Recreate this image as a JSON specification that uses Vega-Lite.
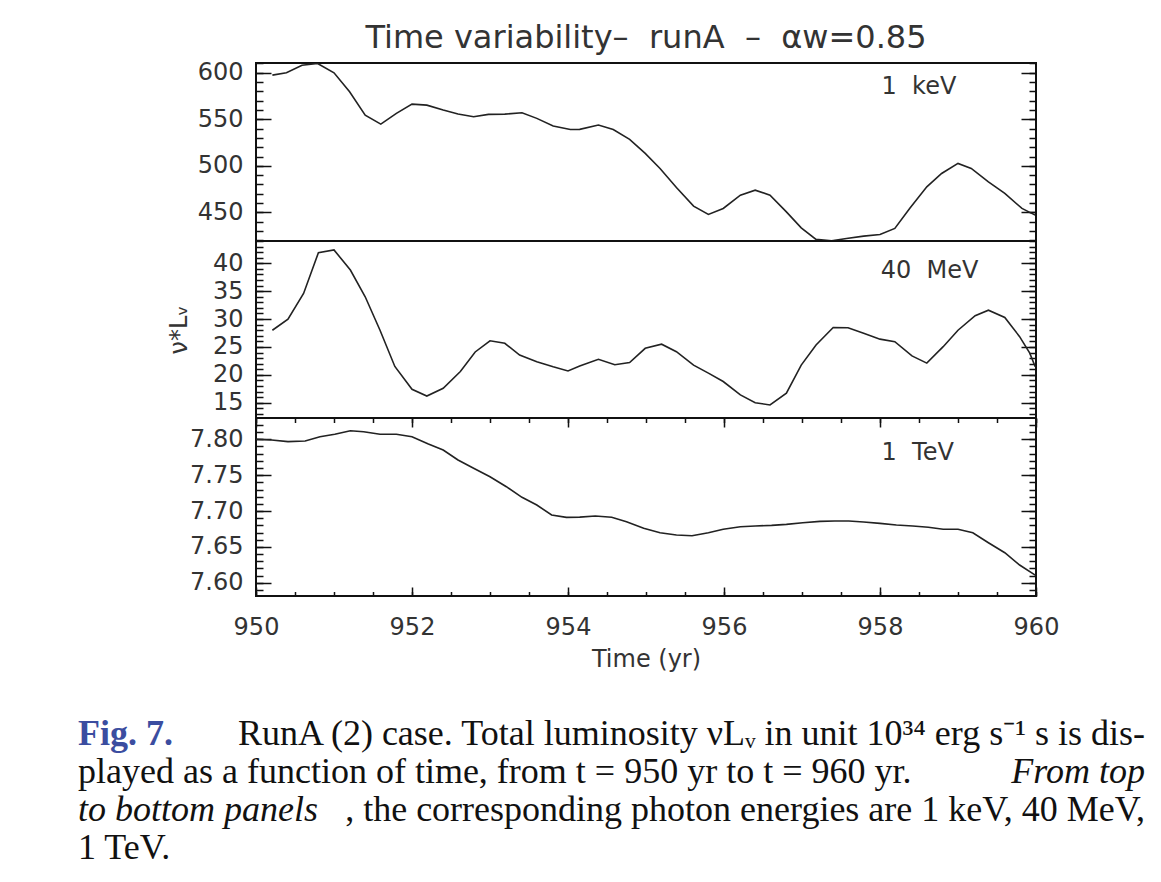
{
  "$schema": "https://vega.github.io/schema/vega-lite/v6.json",
  "background": "white",
  "padding": {"left": 78, "top": 20, "right": 0, "bottom": 0},
  "datasets": {
    "lum": [
      {"band": "1 keV", "t": 950.21, "L": 597.5}, {"band": "1 keV", "t": 950.39, "L": 600}, {"band": "1 keV", "t": 950.59, "L": 608}, {"band": "1 keV", "t": 950.79, "L": 610}, {"band": "1 keV", "t": 951.0, "L": 600}, {"band": "1 keV", "t": 951.2, "L": 579.6}, {"band": "1 keV", "t": 951.4, "L": 554.5}, {"band": "1 keV", "t": 951.6, "L": 544.8}, {"band": "1 keV", "t": 951.8, "L": 556.3}, {"band": "1 keV", "t": 952.0, "L": 566.3}, {"band": "1 keV", "t": 952.19, "L": 565.2}, {"band": "1 keV", "t": 952.4, "L": 559.9}, {"band": "1 keV", "t": 952.59, "L": 555.6}, {"band": "1 keV", "t": 952.79, "L": 552.7}, {"band": "1 keV", "t": 952.98, "L": 555.3}, {"band": "1 keV", "t": 953.19, "L": 555.6}, {"band": "1 keV", "t": 953.41, "L": 557}, {"band": "1 keV", "t": 953.6, "L": 551}, {"band": "1 keV", "t": 953.81, "L": 542.7}, {"band": "1 keV", "t": 954.03, "L": 539.1}, {"band": "1 keV", "t": 954.15, "L": 539.2}, {"band": "1 keV", "t": 954.39, "L": 543.8}, {"band": "1 keV", "t": 954.58, "L": 539}, {"band": "1 keV", "t": 954.79, "L": 528.4}, {"band": "1 keV", "t": 954.99, "L": 513.3}, {"band": "1 keV", "t": 955.18, "L": 497.2}, {"band": "1 keV", "t": 955.39, "L": 476.7}, {"band": "1 keV", "t": 955.61, "L": 456.7}, {"band": "1 keV", "t": 955.8, "L": 447.7}, {"band": "1 keV", "t": 955.99, "L": 454.2}, {"band": "1 keV", "t": 956.21, "L": 468.5}, {"band": "1 keV", "t": 956.4, "L": 473.8}, {"band": "1 keV", "t": 956.59, "L": 468.5}, {"band": "1 keV", "t": 956.8, "L": 450.5}, {"band": "1 keV", "t": 956.99, "L": 433.4}, {"band": "1 keV", "t": 957.18, "L": 420.9}, {"band": "1 keV", "t": 957.38, "L": 419.4}, {"band": "1 keV", "t": 957.57, "L": 421.9}, {"band": "1 keV", "t": 957.79, "L": 424.4}, {"band": "1 keV", "t": 958.0, "L": 426.2}, {"band": "1 keV", "t": 958.19, "L": 432.7}, {"band": "1 keV", "t": 958.38, "L": 454.2}, {"band": "1 keV", "t": 958.6, "L": 477.4}, {"band": "1 keV", "t": 958.79, "L": 491.8}, {"band": "1 keV", "t": 959.0, "L": 502.6}, {"band": "1 keV", "t": 959.17, "L": 497.2}, {"band": "1 keV", "t": 959.39, "L": 482.8}, {"band": "1 keV", "t": 959.6, "L": 470.3}, {"band": "1 keV", "t": 959.82, "L": 454.2}, {"band": "1 keV", "t": 959.99, "L": 447},
      {"band": "40 MeV", "t": 950.21, "L": 28.0}, {"band": "40 MeV", "t": 950.41, "L": 30.0}, {"band": "40 MeV", "t": 950.61, "L": 34.6}, {"band": "40 MeV", "t": 950.8, "L": 41.9}, {"band": "40 MeV", "t": 951.0, "L": 42.4}, {"band": "40 MeV", "t": 951.21, "L": 38.8}, {"band": "40 MeV", "t": 951.4, "L": 34.0}, {"band": "40 MeV", "t": 951.59, "L": 28.0}, {"band": "40 MeV", "t": 951.78, "L": 21.5}, {"band": "40 MeV", "t": 952.0, "L": 17.4}, {"band": "40 MeV", "t": 952.19, "L": 16.2}, {"band": "40 MeV", "t": 952.4, "L": 17.6}, {"band": "40 MeV", "t": 952.62, "L": 20.6}, {"band": "40 MeV", "t": 952.81, "L": 24.1}, {"band": "40 MeV", "t": 953.0, "L": 26.1}, {"band": "40 MeV", "t": 953.19, "L": 25.65}, {"band": "40 MeV", "t": 953.38, "L": 23.55}, {"band": "40 MeV", "t": 953.6, "L": 22.35}, {"band": "40 MeV", "t": 953.81, "L": 21.45}, {"band": "40 MeV", "t": 954.0, "L": 20.7}, {"band": "40 MeV", "t": 954.15, "L": 21.6}, {"band": "40 MeV", "t": 954.39, "L": 22.8}, {"band": "40 MeV", "t": 954.6, "L": 21.8}, {"band": "40 MeV", "t": 954.79, "L": 22.2}, {"band": "40 MeV", "t": 954.99, "L": 24.75}, {"band": "40 MeV", "t": 955.2, "L": 25.5}, {"band": "40 MeV", "t": 955.39, "L": 24.15}, {"band": "40 MeV", "t": 955.61, "L": 21.75}, {"band": "40 MeV", "t": 955.8, "L": 20.3}, {"band": "40 MeV", "t": 955.99, "L": 18.8}, {"band": "40 MeV", "t": 956.21, "L": 16.4}, {"band": "40 MeV", "t": 956.4, "L": 15.0}, {"band": "40 MeV", "t": 956.59, "L": 14.6}, {"band": "40 MeV", "t": 956.8, "L": 16.7}, {"band": "40 MeV", "t": 956.99, "L": 21.75}, {"band": "40 MeV", "t": 957.18, "L": 25.35}, {"band": "40 MeV", "t": 957.4, "L": 28.5}, {"band": "40 MeV", "t": 957.59, "L": 28.45}, {"band": "40 MeV", "t": 957.79, "L": 27.45}, {"band": "40 MeV", "t": 958.0, "L": 26.4}, {"band": "40 MeV", "t": 958.19, "L": 25.95}, {"band": "40 MeV", "t": 958.41, "L": 23.4}, {"band": "40 MeV", "t": 958.6, "L": 22.1}, {"band": "40 MeV", "t": 958.81, "L": 25.05}, {"band": "40 MeV", "t": 959.0, "L": 28.0}, {"band": "40 MeV", "t": 959.22, "L": 30.6}, {"band": "40 MeV", "t": 959.39, "L": 31.6}, {"band": "40 MeV", "t": 959.6, "L": 30.3}, {"band": "40 MeV", "t": 959.79, "L": 26.85}, {"band": "40 MeV", "t": 959.92, "L": 23.9}, {"band": "40 MeV", "t": 959.99, "L": 21.45},
      {"band": "1 TeV", "t": 950.0, "L": 7.8}, {"band": "1 TeV", "t": 950.2, "L": 7.799}, {"band": "1 TeV", "t": 950.41, "L": 7.7967}, {"band": "1 TeV", "t": 950.63, "L": 7.7976}, {"band": "1 TeV", "t": 950.82, "L": 7.8036}, {"band": "1 TeV", "t": 951.01, "L": 7.807}, {"band": "1 TeV", "t": 951.21, "L": 7.812}, {"band": "1 TeV", "t": 951.38, "L": 7.8106}, {"band": "1 TeV", "t": 951.59, "L": 7.807}, {"band": "1 TeV", "t": 951.8, "L": 7.807}, {"band": "1 TeV", "t": 952.0, "L": 7.8036}, {"band": "1 TeV", "t": 952.21, "L": 7.7934}, {"band": "1 TeV", "t": 952.4, "L": 7.785}, {"band": "1 TeV", "t": 952.59, "L": 7.7711}, {"band": "1 TeV", "t": 952.79, "L": 7.7596}, {"band": "1 TeV", "t": 953.0, "L": 7.7478}, {"band": "1 TeV", "t": 953.21, "L": 7.7339}, {"band": "1 TeV", "t": 953.41, "L": 7.7191}, {"band": "1 TeV", "t": 953.6, "L": 7.7084}, {"band": "1 TeV", "t": 953.79, "L": 7.6944}, {"band": "1 TeV", "t": 953.98, "L": 7.6912}, {"band": "1 TeV", "t": 954.15, "L": 7.6915}, {"band": "1 TeV", "t": 954.35, "L": 7.693}, {"band": "1 TeV", "t": 954.56, "L": 7.6912}, {"band": "1 TeV", "t": 954.75, "L": 7.685}, {"band": "1 TeV", "t": 954.97, "L": 7.6759}, {"band": "1 TeV", "t": 955.18, "L": 7.6697}, {"band": "1 TeV", "t": 955.39, "L": 7.6665}, {"band": "1 TeV", "t": 955.59, "L": 7.6656}, {"band": "1 TeV", "t": 955.8, "L": 7.6697}, {"band": "1 TeV", "t": 955.99, "L": 7.6745}, {"band": "1 TeV", "t": 956.21, "L": 7.6781}, {"band": "1 TeV", "t": 956.4, "L": 7.6791}, {"band": "1 TeV", "t": 956.61, "L": 7.68}, {"band": "1 TeV", "t": 956.8, "L": 7.6814}, {"band": "1 TeV", "t": 957.01, "L": 7.6837}, {"band": "1 TeV", "t": 957.23, "L": 7.6856}, {"band": "1 TeV", "t": 957.42, "L": 7.686}, {"band": "1 TeV", "t": 957.6, "L": 7.686}, {"band": "1 TeV", "t": 957.79, "L": 7.6847}, {"band": "1 TeV", "t": 958.0, "L": 7.6828}, {"band": "1 TeV", "t": 958.21, "L": 7.6805}, {"band": "1 TeV", "t": 958.42, "L": 7.6791}, {"band": "1 TeV", "t": 958.62, "L": 7.6773}, {"band": "1 TeV", "t": 958.81, "L": 7.6745}, {"band": "1 TeV", "t": 959.0, "L": 7.6745}, {"band": "1 TeV", "t": 959.19, "L": 7.6697}, {"band": "1 TeV", "t": 959.39, "L": 7.6558}, {"band": "1 TeV", "t": 959.6, "L": 7.6418}, {"band": "1 TeV", "t": 959.79, "L": 7.6247}, {"band": "1 TeV", "t": 959.99, "L": 7.6107}
    ],
    "caption": [
      {"line": 1, "kind": "label", "text": "Fig. 7."},
      {"line": 1, "kind": "body", "text": "RunA (2) case. Total luminosity νLᵥ in unit 10³⁴ erg s⁻¹ s is dis-"},
      {"line": 2, "kind": "body", "text": "played as a function of time, from t = 950 yr to t = 960 yr."},
      {"line": 2, "kind": "emph", "text": "From top"},
      {"line": 3, "kind": "emph", "text": "to bottom panels"},
      {"line": 3, "kind": "body", "text": ", the corresponding photon energies are 1 keV, 40 MeV,"},
      {"line": 4, "kind": "body", "text": "1 TeV."}
    ]
  },
  "spacing": 43,
  "vconcat": [
    {
      "bounds": "flush",
      "spacing": 0,
      "vconcat": [
        {
          "width": 780, "height": 178,
          "view": {"stroke": "#111", "strokeWidth": 2},
          "title": {"text": "Time variability–\u00a0 runA\u00a0 –\u00a0 αw=0.85", "font": "DejaVu Sans", "fontSize": 32, "fontWeight": "normal", "color": "#333", "offset": 6, "anchor": "middle"},
          "data": {"name": "lum"},
          "transform": [{"filter": "datum.band === '1 keV'"}],
          "layer": [
            {"mark": {"type": "line", "color": "#222", "strokeWidth": 1.6, "clip": true},
             "encoding": {
               "x": {"field": "t", "type": "quantitative", "scale": {"domain": [950, 960], "nice": false, "zero": false}, "axis": null},
               "y": {"field": "L", "type": "quantitative", "scale": {"domain": [419.2, 610.5], "nice": false, "zero": false}, "axis": {"orient": "left", "values": [450, 500, 550, 600], "tickSize": -15, "labelPadding": 28, "title": null}}}},
            {"mark": {"type": "line", "opacity": 0, "clip": true},
             "encoding": {
               "x": {"field": "t", "type": "quantitative", "scale": {"domain": [950, 960], "nice": false, "zero": false}, "axis": null},
               "y": {"field": "L", "type": "quantitative", "scale": {"domain": [419.2, 610.5], "nice": false, "zero": false}, "axis": {"orient": "left", "values": [420, 430, 440, 450, 460, 470, 480, 490, 500, 510, 520, 530, 540, 550, 560, 570, 580, 590, 600, 610], "tickSize": -7, "labels": false, "title": null}}}},
            {"mark": {"type": "line", "opacity": 0, "clip": true},
             "encoding": {
               "x": {"field": "t", "type": "quantitative", "scale": {"domain": [950, 960], "nice": false, "zero": false}, "axis": null},
               "y": {"field": "L", "type": "quantitative", "scale": {"domain": [419.2, 610.5], "nice": false, "zero": false}, "axis": {"orient": "right", "values": [450, 500, 550, 600], "tickSize": -15, "labels": false, "title": null}}}},
            {"mark": {"type": "line", "opacity": 0, "clip": true},
             "encoding": {
               "x": {"field": "t", "type": "quantitative", "scale": {"domain": [950, 960], "nice": false, "zero": false}, "axis": null},
               "y": {"field": "L", "type": "quantitative", "scale": {"domain": [419.2, 610.5], "nice": false, "zero": false}, "axis": {"orient": "right", "values": [420, 430, 440, 450, 460, 470, 480, 490, 500, 510, 520, 530, 540, 550, 560, 570, 580, 590, 600, 610], "tickSize": -7, "labels": false, "title": null}}}},
            {"data": {"values": [{"label": "1\u00a0 keV"}]},
             "mark": {"type": "text", "align": "left", "baseline": "middle", "font": "DejaVu Sans", "fontSize": 24, "color": "#333"},
             "encoding": {
               "x": {"datum": 958.02, "type": "quantitative", "scale": {"domain": [950, 960], "nice": false, "zero": false}, "axis": null},
               "y": {"datum": 585, "type": "quantitative", "scale": {"domain": [419.2, 610.5], "nice": false, "zero": false}, "axis": null},
               "text": {"field": "label"}}}
          ],
          "resolve": {"axis": {"x": "independent", "y": "independent"}}
        },
        {
          "width": 780, "height": 177,
          "view": {"stroke": "#111", "strokeWidth": 2},
          "data": {"name": "lum"},
          "transform": [{"filter": "datum.band === '40 MeV'"}],
          "layer": [
            {"mark": {"type": "line", "color": "#222", "strokeWidth": 1.6, "clip": true},
             "encoding": {
               "x": {"field": "t", "type": "quantitative", "scale": {"domain": [950, 960], "nice": false, "zero": false}, "axis": null},
               "y": {"field": "L", "type": "quantitative", "scale": {"domain": [12.26, 44.0], "nice": false, "zero": false}, "axis": {"orient": "left", "values": [15, 20, 25, 30, 35, 40], "tickSize": -15, "labelPadding": 28, "title": "ν*Lᵥ", "titlePadding": 21}}}},
            {"mark": {"type": "line", "opacity": 0, "clip": true},
             "encoding": {
               "x": {"field": "t", "type": "quantitative", "scale": {"domain": [950, 960], "nice": false, "zero": false}, "axis": null},
               "y": {"field": "L", "type": "quantitative", "scale": {"domain": [12.26, 44.0], "nice": false, "zero": false}, "axis": {"orient": "left", "values": [13, 14, 15, 16, 17, 18, 19, 20, 21, 22, 23, 24, 25, 26, 27, 28, 29, 30, 31, 32, 33, 34, 35, 36, 37, 38, 39, 40, 41, 42, 43, 44], "tickSize": -7, "labels": false, "title": null}}}},
            {"mark": {"type": "line", "opacity": 0, "clip": true},
             "encoding": {
               "x": {"field": "t", "type": "quantitative", "scale": {"domain": [950, 960], "nice": false, "zero": false}, "axis": null},
               "y": {"field": "L", "type": "quantitative", "scale": {"domain": [12.26, 44.0], "nice": false, "zero": false}, "axis": {"orient": "right", "values": [15, 20, 25, 30, 35, 40], "tickSize": -15, "labels": false, "title": null}}}},
            {"mark": {"type": "line", "opacity": 0, "clip": true},
             "encoding": {
               "x": {"field": "t", "type": "quantitative", "scale": {"domain": [950, 960], "nice": false, "zero": false}, "axis": null},
               "y": {"field": "L", "type": "quantitative", "scale": {"domain": [12.26, 44.0], "nice": false, "zero": false}, "axis": {"orient": "right", "values": [13, 14, 15, 16, 17, 18, 19, 20, 21, 22, 23, 24, 25, 26, 27, 28, 29, 30, 31, 32, 33, 34, 35, 36, 37, 38, 39, 40, 41, 42, 43, 44], "tickSize": -7, "labels": false, "title": null}}}},
            {"data": {"values": [{"label": "40\u00a0 MeV"}]},
             "mark": {"type": "text", "align": "left", "baseline": "middle", "font": "DejaVu Sans", "fontSize": 24, "color": "#333"},
             "encoding": {
               "x": {"datum": 958.01, "type": "quantitative", "scale": {"domain": [950, 960], "nice": false, "zero": false}, "axis": null},
               "y": {"datum": 38.58, "type": "quantitative", "scale": {"domain": [12.26, 44.0], "nice": false, "zero": false}, "axis": null},
               "text": {"field": "label"}}}
          ],
          "resolve": {"axis": {"x": "independent", "y": "independent"}}
        },
        {
          "width": 780, "height": 178,
          "view": {"stroke": "#111", "strokeWidth": 2},
          "data": {"name": "lum"},
          "transform": [{"filter": "datum.band === '1 TeV'"}],
          "layer": [
            {"mark": {"type": "line", "color": "#222", "strokeWidth": 1.6, "clip": true},
             "encoding": {
               "x": {"field": "t", "type": "quantitative", "scale": {"domain": [950, 960], "nice": false, "zero": false}, "axis": {"orient": "bottom", "values": [950, 952, 954, 956, 958, 960], "tickSize": -9, "labelPadding": 28, "labelFlush": false, "title": "Time (yr)", "titlePadding": 8}},
               "y": {"field": "L", "type": "quantitative", "scale": {"domain": [7.5815, 7.8297], "nice": false, "zero": false}, "axis": {"orient": "left", "values": [7.6, 7.65, 7.7, 7.75, 7.8], "format": ".2f", "tickSize": -15, "labelPadding": 28, "title": null}}}},
            {"mark": {"type": "line", "opacity": 0, "clip": true},
             "encoding": {
               "x": {"field": "t", "type": "quantitative", "scale": {"domain": [950, 960], "nice": false, "zero": false}, "axis": {"orient": "bottom", "values": [950, 950.5, 951, 951.5, 952, 952.5, 953, 953.5, 954, 954.5, 955, 955.5, 956, 956.5, 957, 957.5, 958, 958.5, 959, 959.5, 960], "tickSize": -4.5, "labels": false, "title": null}},
               "y": {"field": "L", "type": "quantitative", "scale": {"domain": [7.5815, 7.8297], "nice": false, "zero": false}, "axis": {"orient": "left", "values": [7.59, 7.6, 7.61, 7.62, 7.63, 7.64, 7.65, 7.66, 7.67, 7.68, 7.69, 7.7, 7.71, 7.72, 7.73, 7.74, 7.75, 7.76, 7.77, 7.78, 7.79, 7.8, 7.81, 7.82], "tickSize": -7, "labels": false, "title": null}}}},
            {"mark": {"type": "line", "opacity": 0, "clip": true},
             "encoding": {
               "x": {"field": "t", "type": "quantitative", "scale": {"domain": [950, 960], "nice": false, "zero": false}, "axis": {"orient": "top", "values": [950, 952, 954, 956, 958, 960], "tickSize": -9, "labels": false, "title": null}},
               "y": {"field": "L", "type": "quantitative", "scale": {"domain": [7.5815, 7.8297], "nice": false, "zero": false}, "axis": {"orient": "right", "values": [7.6, 7.65, 7.7, 7.75, 7.8], "tickSize": -15, "labels": false, "title": null}}}},
            {"mark": {"type": "line", "opacity": 0, "clip": true},
             "encoding": {
               "x": {"field": "t", "type": "quantitative", "scale": {"domain": [950, 960], "nice": false, "zero": false}, "axis": {"orient": "top", "values": [950, 950.5, 951, 951.5, 952, 952.5, 953, 953.5, 954, 954.5, 955, 955.5, 956, 956.5, 957, 957.5, 958, 958.5, 959, 959.5, 960], "tickSize": -4.5, "labels": false, "title": null}},
               "y": {"field": "L", "type": "quantitative", "scale": {"domain": [7.5815, 7.8297], "nice": false, "zero": false}, "axis": {"orient": "right", "values": [7.59, 7.6, 7.61, 7.62, 7.63, 7.64, 7.65, 7.66, 7.67, 7.68, 7.69, 7.7, 7.71, 7.72, 7.73, 7.74, 7.75, 7.76, 7.77, 7.78, 7.79, 7.8, 7.81, 7.82], "tickSize": -7, "labels": false, "title": null}}}},
            {"data": {"values": [{"label": "1\u00a0 TeV"}]},
             "mark": {"type": "text", "align": "left", "baseline": "middle", "font": "DejaVu Sans", "fontSize": 24, "color": "#333"},
             "encoding": {
               "x": {"datum": 958.02, "type": "quantitative", "scale": {"domain": [950, 960], "nice": false, "zero": false}, "axis": null},
               "y": {"datum": 7.7805, "type": "quantitative", "scale": {"domain": [7.5815, 7.8297], "nice": false, "zero": false}, "axis": null},
               "text": {"field": "label"}}}
          ],
          "resolve": {"axis": {"x": "independent", "y": "independent"}}
        }
      ]
    },
    {
      "width": 780, "height": 152,
      "view": {"stroke": null},
      "data": {"name": "caption"},
      "encoding": {
        "y": {"field": "line", "type": "ordinal", "axis": null, "scale": {"domain": [1, 2, 3, 4]}},
        "text": {"field": "text"}
      },
      "layer": [
        {"transform": [{"filter": "datum.kind === 'label'"}],
         "mark": {"type": "text", "align": "left", "baseline": "middle", "x": -178, "font": "Liberation Serif", "fontSize": 36, "fontWeight": "bold", "color": "#3b4da0"}},
        {"transform": [{"filter": "datum.kind === 'body' && (datum.line === 2 || datum.line === 4)"}],
         "mark": {"type": "text", "align": "left", "baseline": "middle", "x": -178, "font": "Liberation Serif", "fontSize": 36, "color": "#111"}},
        {"transform": [{"filter": "datum.kind === 'body' && (datum.line === 1 || datum.line === 3)"}],
         "mark": {"type": "text", "align": "right", "baseline": "middle", "x": 889, "font": "Liberation Serif", "fontSize": 36, "color": "#111"}},
        {"transform": [{"filter": "datum.kind === 'emph' && datum.line === 3"}],
         "mark": {"type": "text", "align": "left", "baseline": "middle", "x": -178, "font": "Liberation Serif", "fontSize": 36, "fontStyle": "italic", "color": "#111"}},
        {"transform": [{"filter": "datum.kind === 'emph' && datum.line === 2"}],
         "mark": {"type": "text", "align": "right", "baseline": "middle", "x": 889, "font": "Liberation Serif", "fontSize": 36, "fontStyle": "italic", "color": "#111"}}
      ]
    }
  ],
  "config": {
    "view": {"stroke": null},
    "axis": {"domain": false, "grid": false, "labelFont": "DejaVu Sans", "labelFontSize": 24, "labelColor": "#333", "tickColor": "#111", "tickWidth": 1.5, "titleFont": "DejaVu Sans", "titleFontSize": 24, "titleFontWeight": "normal", "titleColor": "#333"}
  }
}
